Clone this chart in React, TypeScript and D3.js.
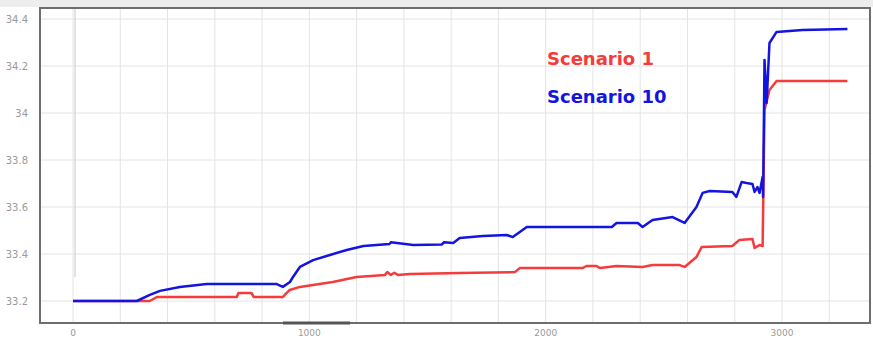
import React, { useEffect, useRef } from 'react';
import * as d3 from 'd3';

// Scenario 1 (red): [step, value]
const scenario1: [number, number][] = [
  [0, 33.2], [325, 33.2], [355, 33.217], [693, 33.217], [700, 33.234], [755, 33.234],
  [765, 33.217], [888, 33.217], [900, 33.23], [917, 33.247], [960, 33.26], [1099, 33.281],
  [1200, 33.302], [1320, 33.311], [1330, 33.323], [1345, 33.311], [1360, 33.32], [1375, 33.311],
  [1425, 33.315], [1636, 33.319], [1870, 33.323], [1890, 33.34], [2156, 33.34], [2173, 33.349],
  [2215, 33.349], [2230, 33.34], [2300, 33.349], [2410, 33.345], [2452, 33.353], [2567, 33.353],
  [2588, 33.345], [2638, 33.387], [2660, 33.43], [2790, 33.434], [2820, 33.46], [2875, 33.464],
  [2884, 33.426], [2905, 33.438], [2918, 33.434], [2926, 34.013], [2947, 34.098], [2977, 34.136],
  [3277, 34.136],
];

// Scenario 10 (blue)
const scenario10: [number, number][] = [
  [0, 33.2], [270, 33.2], [325, 33.226], [368, 33.243], [452, 33.26], [566, 33.272],
  [862, 33.272], [888, 33.26], [918, 33.281], [931, 33.302], [960, 33.345], [1016, 33.374],
  [1087, 33.396], [1158, 33.417], [1229, 33.434], [1340, 33.443], [1345, 33.45], [1440, 33.438],
  [1560, 33.44], [1570, 33.45], [1609, 33.447], [1636, 33.468], [1734, 33.477], [1835, 33.481],
  [1861, 33.472], [1920, 33.515], [2280, 33.515], [2300, 33.532], [2390, 33.532], [2410, 33.515],
  [2452, 33.545], [2537, 33.557], [2588, 33.532], [2638, 33.6], [2664, 33.66], [2694, 33.668],
  [2790, 33.664], [2807, 33.643], [2829, 33.706], [2850, 33.702], [2875, 33.698], [2884, 33.664],
  [2896, 33.685], [2905, 33.66], [2918, 33.728], [2920, 33.643], [2926, 34.226], [2935, 34.043],
  [2947, 34.298], [2977, 34.345], [3087, 34.353], [3277, 34.357],
];

const xTicks = [0, 1000, 2000, 3000];
const yTicks = [33.2, 33.4, 33.6, 33.8, 34, 34.2, 34.4];
const legend = [
  { label: 'Scenario 1', color: '#f53b3b' },
  { label: 'Scenario 10', color: '#1414e0' },
];

export default function App() {
  const svgRef = useRef<SVGSVGElement>(null);

  useEffect(() => {
    if (!svgRef.current) return;
    const svg = d3.select(svgRef.current);
    svg.selectAll('*').remove();

    const left = 40, right = 870, top = 8, bottom = 323;
    const x = d3.scaleLinear().domain([0, 3000]).range([73, 782]);
    const y = d3.scaleLinear().domain([33.2, 34.4]).range([301, 19]);

    svg.append('rect').attr('x', 0).attr('y', 0).attr('width', 873).attr('height', 7).attr('fill', '#ededed');

    // grid
    const grid = svg.append('g');
    d3.range(0, 3401, 200).forEach(v => {
      const px = x(v);
      if (px > left && px < right) {
        grid.append('line').attr('x1', px).attr('x2', px).attr('y1', top).attr('y2', bottom)
          .attr('stroke', '#e4e4e4').attr('stroke-width', 1);
      }
    });
    yTicks.forEach(v => {
      grid.append('line').attr('x1', left).attr('x2', right).attr('y1', y(v)).attr('y2', y(v))
        .attr('stroke', '#e4e4e4').attr('stroke-width', 1);
    });
    grid.append('line').attr('x1', x(0) + 2).attr('x2', x(0) + 2).attr('y1', top).attr('y2', 277)
      .attr('stroke', '#c8c8c8').attr('stroke-width', 1);

    // frame
    svg.append('rect').attr('x', left).attr('y', top).attr('width', right - left).attr('height', bottom - top)
      .attr('fill', 'none').attr('stroke', '#6e6e6e').attr('stroke-width', 2);
    svg.append('line').attr('x1', 283).attr('x2', 350).attr('y1', bottom).attr('y2', bottom)
      .attr('stroke', '#555').attr('stroke-width', 3);

    // tick labels
    svg.append('g').selectAll('text').data(yTicks).join('text')
      .attr('x', 28).attr('y', d => y(d)).attr('dy', '0.35em').attr('text-anchor', 'end')
      .attr('font-family', 'DejaVu Sans, sans-serif').attr('font-size', 10).attr('fill', '#9a9a9a')
      .text(d => d3.format('~')(+d.toFixed(1)));
    svg.append('g').selectAll('text').data(xTicks).join('text')
      .attr('x', d => x(d)).attr('y', 336).attr('text-anchor', 'middle')
      .attr('font-family', 'DejaVu Sans, sans-serif').attr('font-size', 9).attr('fill', '#9a9a9a')
      .text(d => String(d));

    // lines
    const line = d3.line<[number, number]>().x(d => x(d[0])).y(d => y(d[1]));
    svg.append('path').datum(scenario1).attr('d', line).attr('fill', 'none')
      .attr('stroke', legend[0].color).attr('stroke-width', 2.5).attr('stroke-linejoin', 'round');
    svg.append('path').datum(scenario10).attr('d', line).attr('fill', 'none')
      .attr('stroke', legend[1].color).attr('stroke-width', 2.5).attr('stroke-linejoin', 'round');

    // legend text
    svg.append('g').selectAll('text').data(legend).join('text')
      .attr('x', 547).attr('y', (_, i) => 65 + i * 38)
      .attr('font-family', 'DejaVu Sans, sans-serif').attr('font-weight', 'bold').attr('font-size', 18)
      .attr('fill', d => d.color)
      .text(d => d.label);
  }, []);

  return (
    <div style={{ position: 'absolute', left: 0, top: 0 }}>
      <svg ref={svgRef} width={873} height={340} style={{ display: 'block', background: '#fff' }} />
    </div>
  );
}
